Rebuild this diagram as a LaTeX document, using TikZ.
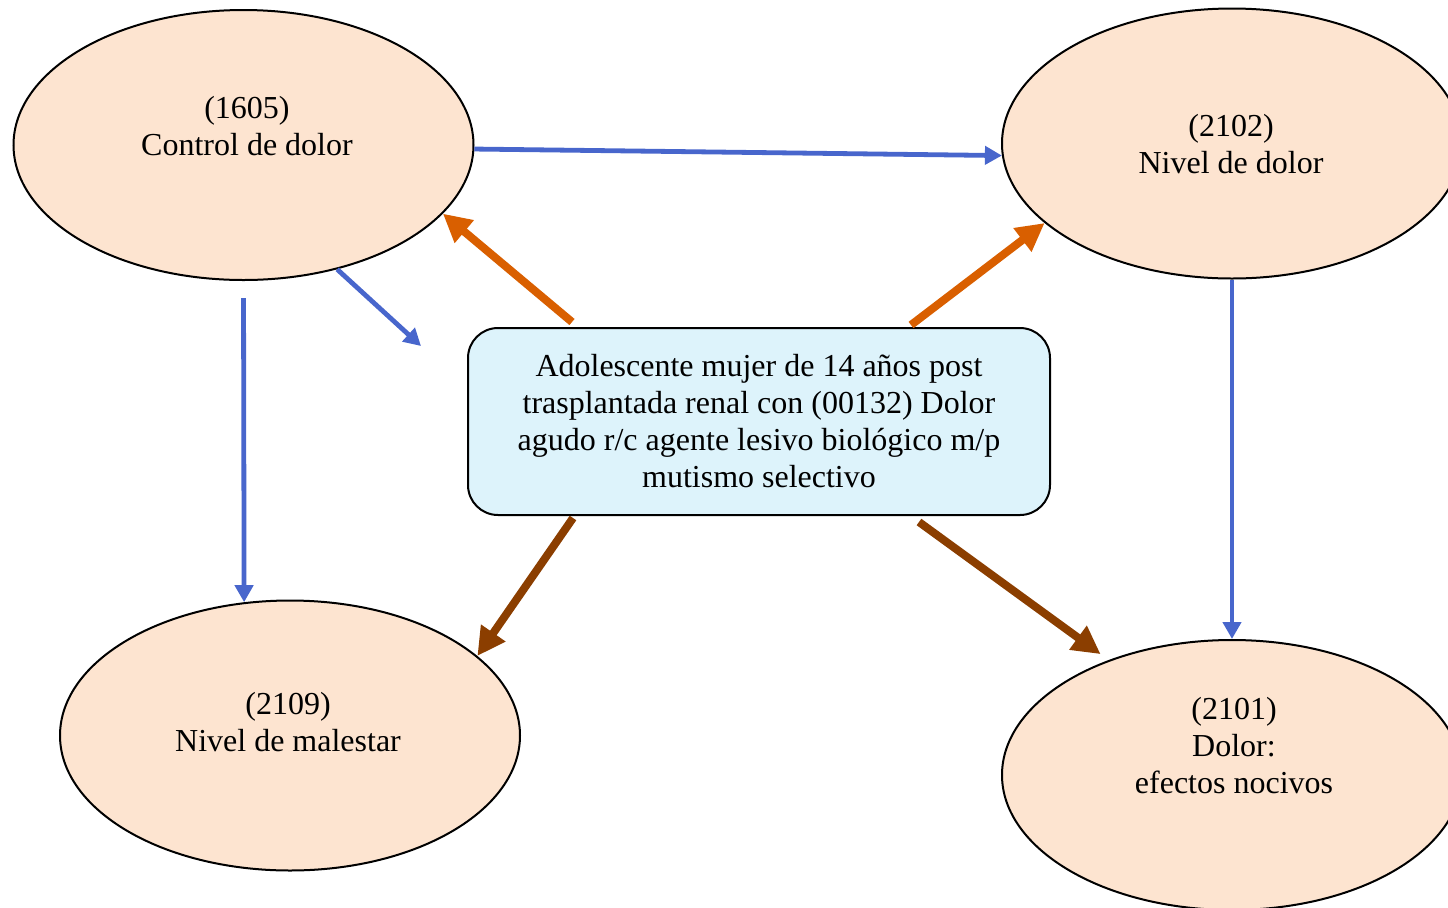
\documentclass[tikz,border=0pt]{standalone}
\usepackage{fontspec}
\setmainfont{Liberation Serif}
\usetikzlibrary{arrows.meta,shapes.geometric}
\definecolor{peach}{RGB}{253,228,208}
\definecolor{skyfill}{RGB}{221,243,251}
\definecolor{linkblue}{RGB}{72,102,204}
\definecolor{linkorange}{RGB}{217,95,0}
\definecolor{linkbrown}{RGB}{139,62,0}
\definecolor{ink}{RGB}{0,0,0}

\begin{document}
\begin{tikzpicture}[
    x=0.5pt, y=-0.5pt,
    outcome/.style={ellipse, draw=ink, fill=peach, line width=1pt,
                    minimum width=230pt, minimum height=135pt, inner sep=0pt},
    lbl/.style={align=center, inner sep=0pt, font=\fontsize{16}{18.5}\selectfont},
    dxbox/.style={draw=ink, rounded corners=15pt, fill=skyfill, line width=1pt,
                  minimum width=291pt, minimum height=93.5pt, align=center,
                  font=\fontsize{16}{18.5}\selectfont},
    blarr/.style={-{Triangle[length=8.5pt,width=9pt]}, color=linkblue, line width=2.4pt},
    orarr/.style={-{Triangle[length=14pt,width=14pt]}, color=linkorange, line width=4pt},
    brarr/.style={-{Triangle[length=14pt,width=14pt]}, color=linkbrown, line width=4pt}
]
\useasboundingbox (0,0) rectangle (1448,907);

% outcome ellipses
\node[outcome] (tl) at (243.5,145) {};
\node[outcome] (tr) at (1232,143.5) {};
\node[outcome] (bl) at (290,735.5) {};
\node[outcome] (br) at (1232,775) {};
\node[lbl] (tltext) at (247,126) {(1605)\\Control de dolor};
\node[lbl] (trtext) at (1231,144) {(2102)\\Nivel de dolor};
\node[lbl] (bltext) at (288,722) {(2109)\\Nivel de malestar};
\node[lbl] (brtext) at (1234,746) {(2101)\\Dolor:\\efectos nocivos};

% diagnosis
\node[dxbox] (dx) at (759,421.5) {Adolescente mujer de 14 años post\\trasplantada renal con (00132) Dolor\\agudo r/c agente lesivo biológico m/p\\mutismo selectivo};
\coordinate (loose) at (421,346);

\draw[blarr] (tl.-1) -- (tr.183);
\draw[blarr] (tl.-53) -- (loose);
\draw[blarr, shorten <=8.5pt] (tl.south) -- (bl.109);
\draw[blarr] (tr.south) -- (br.north);
\draw[orarr] ([xshift=52.5pt,yshift=2.5pt]dx.north west) -- (tl.-19);
\draw[orarr] ([xshift=222pt,yshift=1pt]dx.north west) -- (tr.203);
\draw[brarr] ([xshift=53pt,yshift=-1pt]dx.south west) -- (bl.23);
\draw[brarr, shorten >=5pt] ([xshift=226pt,yshift=-3pt]dx.south west) -- (br.137);
\end{tikzpicture}
\end{document}
